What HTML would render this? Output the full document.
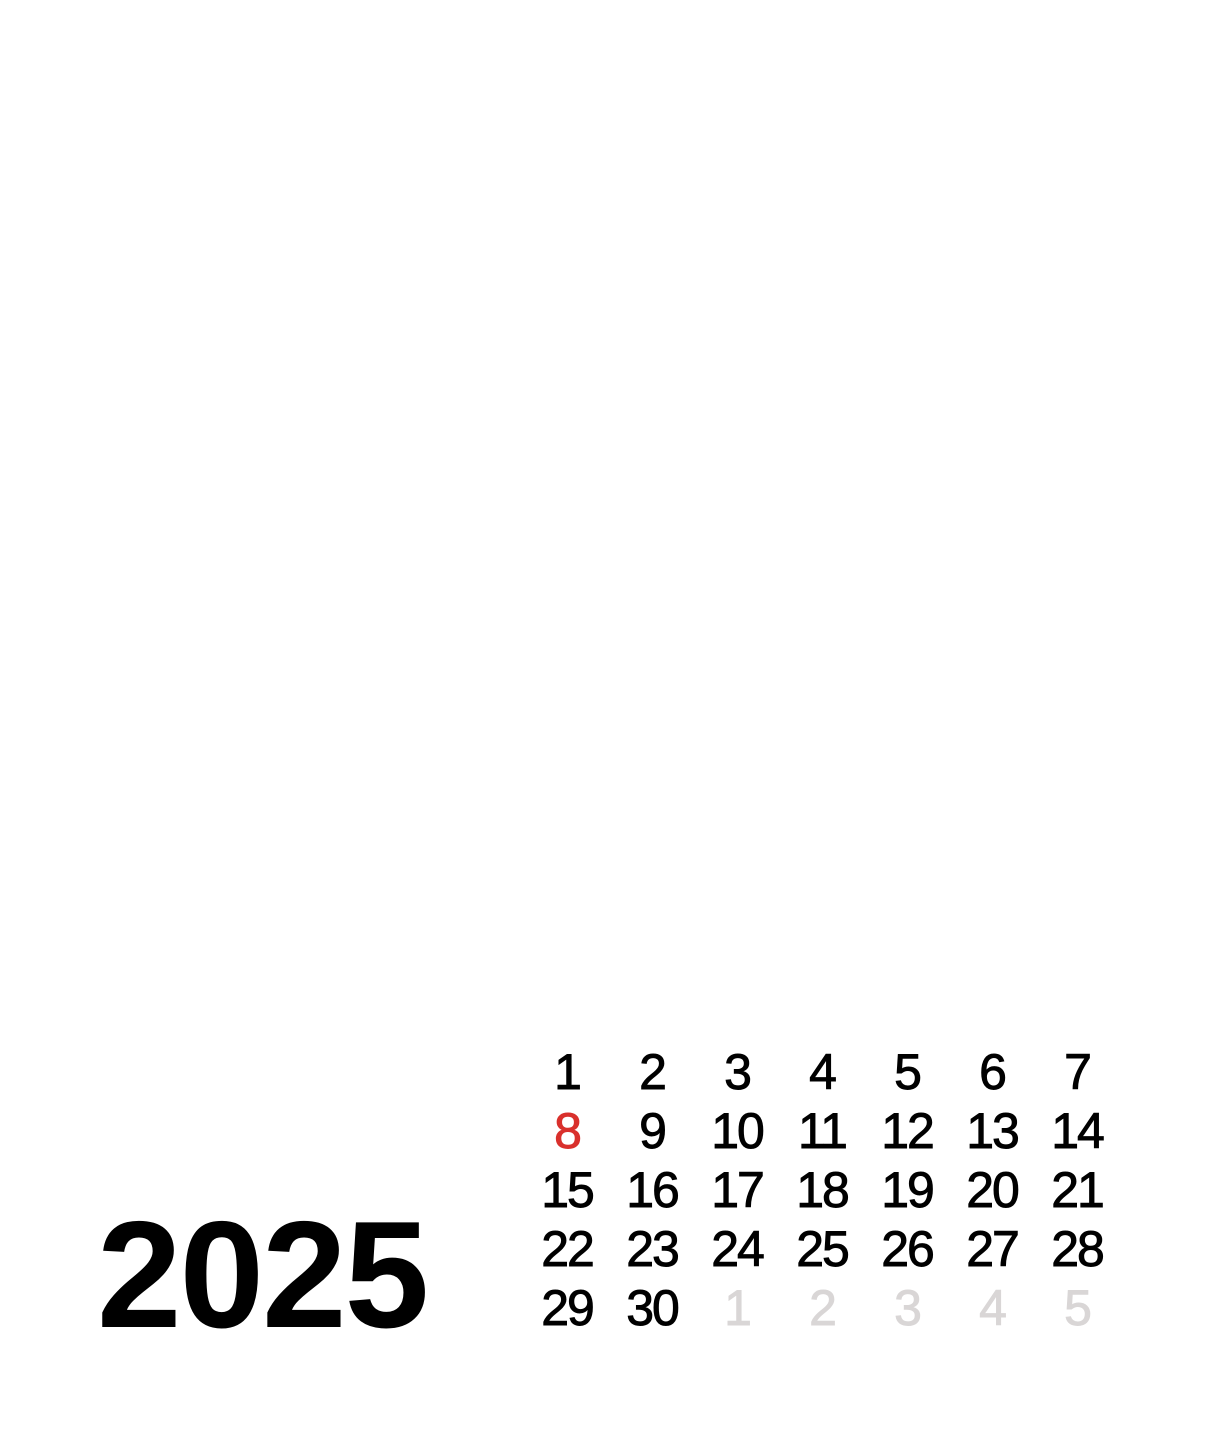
<!DOCTYPE html>
<html>
<head>
<meta charset="utf-8">
<style>
html,body{margin:0;padding:0;background:#fff;}
svg{display:block;}
</style>
</head>
<body>
<svg width="1205" height="1441" viewBox="0 0 1205 1441" xmlns="http://www.w3.org/2000/svg">
<rect width="1205" height="1441" fill="#fff"/>
<text x="97" y="1327" font-family="Liberation Sans, sans-serif" font-weight="bold" font-size="152" letter-spacing="-2" fill="#000">2025</text>
<g font-family="Liberation Sans, sans-serif" font-size="50" text-anchor="middle" letter-spacing="-2" fill="#000" stroke="#000" stroke-width="0.9">
<text x="567" y="1089">1</text><text x="652" y="1089">2</text><text x="737" y="1089">3</text><text x="822" y="1089">4</text><text x="907" y="1089">5</text><text x="992" y="1089">6</text><text x="1077" y="1089">7</text>
<text x="567" y="1148" fill="#d9302c" stroke="#d9302c">8</text><text x="652" y="1148">9</text><text x="737" y="1148">10</text><text x="822" y="1148">11</text><text x="907" y="1148">12</text><text x="992" y="1148">13</text><text x="1077" y="1148">14</text>
<text x="567" y="1207">15</text><text x="652" y="1207">16</text><text x="737" y="1207">17</text><text x="822" y="1207">18</text><text x="907" y="1207">19</text><text x="992" y="1207">20</text><text x="1077" y="1207">21</text>
<text x="567" y="1266">22</text><text x="652" y="1266">23</text><text x="737" y="1266">24</text><text x="822" y="1266">25</text><text x="907" y="1266">26</text><text x="992" y="1266">27</text><text x="1077" y="1266">28</text>
<text x="567" y="1325">29</text><text x="652" y="1325">30</text>
<g fill="#d9d6d6" stroke="#d9d6d6"><text x="737" y="1325">1</text><text x="822" y="1325">2</text><text x="907" y="1325">3</text><text x="992" y="1325">4</text><text x="1077" y="1325">5</text></g>
</g>
</svg>
</body>
</html>
